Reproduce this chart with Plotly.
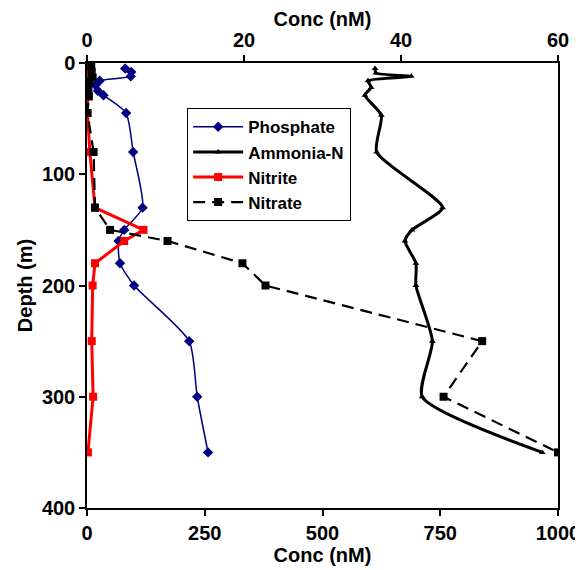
import plotly.graph_objects as go

# Phosphate (bottom axis, nM)
phos_depth = [5, 8, 12, 16, 20, 25, 29, 45, 80, 130, 150, 160, 180, 200, 250, 300, 350]
phos_conc = [81, 94, 93, 27, 18, 23, 35, 83, 98, 118, 79, 67, 70, 100, 217, 234, 257]

# Ammonia-N (top axis, nM)
amm_depth = [5, 9, 12, 16, 22, 29, 47, 80, 130, 150, 160, 180, 200, 250, 300, 350]
amm_conc = [36.7, 36.8, 41.3, 35.8, 36.2, 35.4, 37.5, 36.9, 45.3, 41.4, 40.5, 41.9, 41.9, 44.0, 42.7, 58.0]

# Nitrite (bottom axis, nM)
nitrite_depth = [3, 8, 13, 16, 20, 25, 30, 45, 80, 130, 150, 160, 180, 200, 250, 300, 350]
nitrite_conc = [2, 1, 3, 2, 1, 1, 1, 1, 6, 17, 120, 79, 17, 12, 10, 13, 2]

# Nitrate (bottom axis, nM)
nitrate_depth = [3, 8, 13, 16, 20, 25, 30, 45, 80, 130, 150, 160, 180, 200, 250, 300, 350]
nitrate_conc = [9, 10, 12, 5, 2, 3, 4, 1, 14, 17, 49, 171, 330, 379, 839, 757, 1000]

bottom_ticks = [0, 250, 500, 750, 1000]
top_ticks = [0, 20, 40, 60]
depth_ticks = [0, 100, 200, 300, 400]

FONT = "Liberation Sans, Arial, sans-serif"

fig = go.Figure()
fig.add_trace(go.Scatter(
    x=phos_conc, y=phos_depth, name="Phosphate", mode="lines+markers",
    line=dict(color="#000080", width=1.5, shape="spline", smoothing=0.6),
    marker=dict(symbol="diamond", size=8, color="#000080"),
))
fig.add_trace(go.Scatter(
    x=amm_conc, y=amm_depth, name="Ammonia-N", mode="lines+markers", xaxis="x2",
    line=dict(color="black", width=3, shape="spline", smoothing=0.6),
    marker=dict(symbol="triangle-up", size=6, color="black"),
))
fig.add_trace(go.Scatter(
    x=nitrite_conc, y=nitrite_depth, name="Nitrite", mode="lines+markers",
    line=dict(color="#FF0000", width=3),
    marker=dict(symbol="square", size=8, color="#FF0000"),
))
fig.add_trace(go.Scatter(
    x=nitrate_conc, y=nitrate_depth, name="Nitrate", mode="lines+markers",
    line=dict(color="black", width=2.2, dash="12px,7px"),
    marker=dict(symbol="square", size=8, color="black"),
))

axfont = dict(family=FONT, size=20, color="black", weight="bold")
fig.update_layout(
    width=575, height=562,
    margin=dict(l=79, r=25, t=55, b=62),
    paper_bgcolor="white", plot_bgcolor="white",
    font=dict(family=FONT, color="black"),
    showlegend=True,
    legend=dict(
        x=0.212, y=0.899, xanchor="left", yanchor="top",
        bgcolor="white", bordercolor="black", borderwidth=1.3,
        font=dict(family=FONT, size=17, color="black", weight="bold"),
        itemwidth=50, tracegroupgap=0,
    ),
    xaxis=dict(
        range=[0, 1000], tickvals=bottom_ticks, ticktext=[str(v) for v in bottom_ticks],
        showline=True, linecolor="black", linewidth=1.5, mirror=True,
        ticks="outside", ticklen=6, tickwidth=1.5, tickcolor="black",
        showgrid=False, zeroline=False, tickfont=axfont, automargin=False,
        title=dict(text="Conc (nM)", font=axfont, standoff=2),
    ),
    xaxis2=dict(
        range=[0, 60], tickvals=top_ticks, ticktext=[str(v) for v in top_ticks],
        overlaying="x", side="top", anchor="y",
        showline=True, linecolor="black", linewidth=1.5,
        ticks="outside", ticklen=6, tickwidth=1.5, tickcolor="black",
        showgrid=False, zeroline=False, tickfont=axfont, automargin=False,
        title=dict(text="Conc (nM)", font=axfont, standoff=4),
    ),
    yaxis=dict(
        range=[400, 0], tickvals=depth_ticks, ticktext=[str(v) for v in depth_ticks],
        showline=True, linecolor="black", linewidth=1.5, mirror=True,
        ticks="outside", ticklen=6, tickwidth=1.5, tickcolor="black",
        showgrid=False, zeroline=False, tickfont=axfont, automargin=False,
        title=dict(text="Depth (m)", font=axfont, standoff=4),
    ),
)

fig.write_html("out.html")
